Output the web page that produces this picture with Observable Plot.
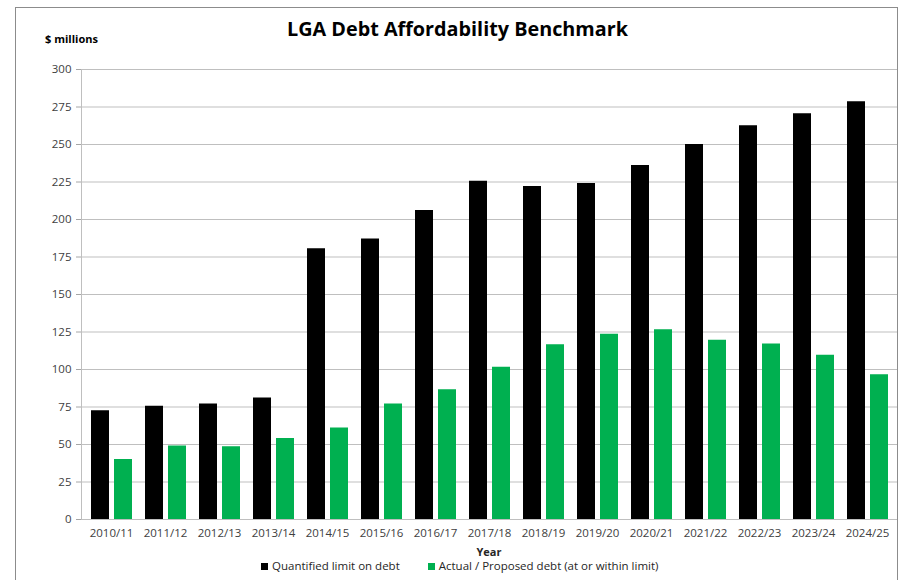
<!DOCTYPE html>
<html>
<head>
<meta charset="utf-8">
<script src="https://cdn.jsdelivr.net/npm/d3@7"></script>
<script src="https://cdn.jsdelivr.net/npm/@observablehq/plot@0.6"></script>
<style>
  html, body { margin: 0; padding: 0; background: #fff; }
  #wrap { position: relative; width: 899px; height: 580px; overflow: hidden; font-family: "Open Sans", sans-serif; }
  #frame { position: absolute; left: 15px; top: 7px; width: 881px; height: 600px; border: 1px solid #8c8c8c; }
  #chart { position: absolute; left: 0; top: 0; }
  .title { position: absolute; left: 0; width: 915px; top: 15px; text-align: center; font-weight: 700; font-size: 19.8px; color: #000; }
  .unit { position: absolute; left: 45px; top: 31px; font-weight: 700; font-size: 11px; color: #000; }
  .xlabel { position: absolute; left: 489px; transform: translateX(-50%); top: 546px; line-height: 12px; font-weight: 700; font-size: 11px; color: #262626; }
  .legend { position: absolute; top: 559px; line-height: 13px; left: 261px; font-size: 11.5px; color: #262626; white-space: nowrap; }
  .legend span.sw { display: inline-block; width: 7px; height: 7px; margin-right: 4px; vertical-align: 0px; }
  .legend .item { display: inline-block; }
</style>
</head>
<body>
<div id="wrap">
  <div id="frame"></div>
  <div id="chart"></div>
  <div class="title">LGA Debt Affordability Benchmark</div>
  <div class="unit">$ millions</div>
  <div class="xlabel">Year</div>
  <div class="legend"></div>
</div>
<script>
const years = ["2010/11","2011/12","2012/13","2013/14","2014/15","2015/16","2016/17","2017/18","2018/19","2019/20","2020/21","2021/22","2022/23","2023/24","2024/25"];
const limitValues = [72.5, 75.5, 77, 81, 180.5, 187, 206, 225.5, 222, 224, 236, 250, 262.5, 270.5, 278.5];
const actualValues = [40, 49, 48.5, 54, 61, 77, 86.5, 101.5, 116.5, 123.5, 126.5, 119.5, 117, 109.5, 96.5];
const yTicks = [0, 25, 50, 75, 100, 125, 150, 175, 200, 225, 250, 275, 300];
const seriesNames = ["Quantified limit on debt", "Actual / Proposed debt (at or within limit)"];
const seriesColors = ["#000000", "#00b050"];

const limitData = years.map((y, i) => ({year: y, value: limitValues[i]}));
const actualData = years.map((y, i) => ({year: y, value: actualValues[i]}));

const chart = Plot.plot({
  width: 899,
  height: 545,
  marginLeft: 81,
  marginRight: 2,
  marginTop: 69,
  marginBottom: 26,
  style: {fontFamily: "'Open Sans', sans-serif", fontSize: "11.5px", color: "#404040", background: "transparent"},
  x: {domain: years, padding: 0, label: null},
  y: {domain: [0, 300], label: null},
  marks: [
    Plot.gridY(yTicks, {stroke: "#bfbfbf", strokeOpacity: 1}),
    Plot.axisY(yTicks, {tickSize: 5, tickPadding: 5, stroke: "#a6a6a6", fill: "#404040", label: null}),
    Plot.axisX({tickSize: 0, tickPadding: 9, fill: "#404040", label: null}),
    Plot.frame({anchor: "left", stroke: "#bfbfbf"}),
    Plot.barY(limitData, {x: "year", y: "value", fill: seriesColors[0], insetLeft: 7, insetRight: 29}),
    Plot.barY(actualData, {x: "year", y: "value", fill: seriesColors[1], insetLeft: 30, insetRight: 6}),
    Plot.ruleY([0], {stroke: "#bfbfbf"})
  ]
});
document.getElementById("chart").appendChild(chart);

const legend = document.querySelector(".legend");
seriesNames.forEach((name, i) => {
  const item = document.createElement("span");
  item.className = "item";
  item.style.marginRight = i === 0 ? "28px" : "0";
  item.innerHTML = `<span class="sw" style="background:${seriesColors[i]}"></span>${name}`;
  legend.appendChild(item);
});
</script>
</body>
</html>
